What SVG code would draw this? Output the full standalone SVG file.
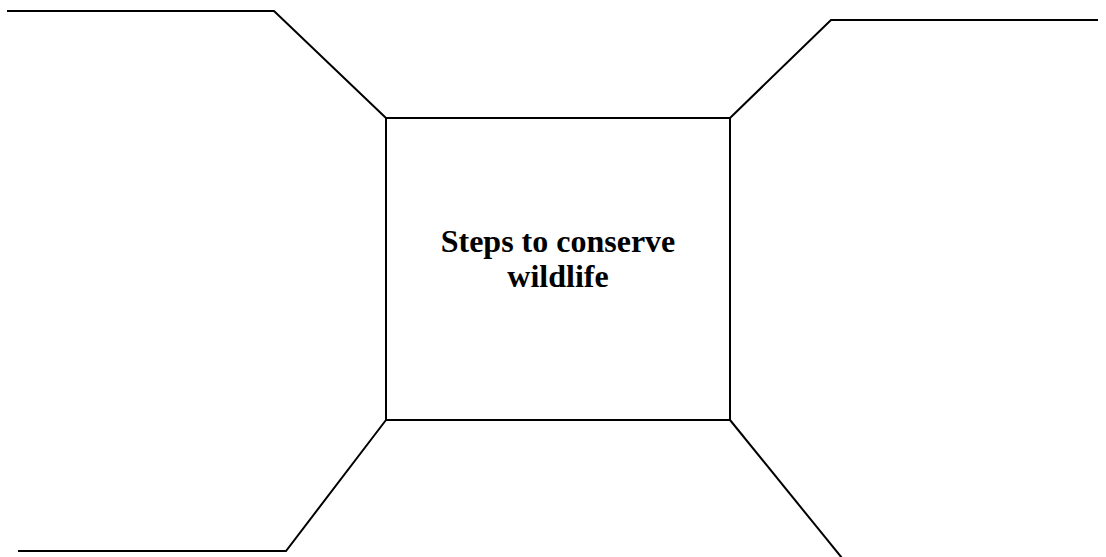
<svg xmlns="http://www.w3.org/2000/svg" width="1106" height="557" viewBox="0 0 1106 557">
<style>
.ln{fill:none;stroke:#000;stroke-width:2;stroke-linejoin:miter}
.t{font-family:"Liberation Serif","Times New Roman",serif;font-weight:bold;font-size:32px;fill:#000;text-anchor:middle}
</style>
<rect width="1106" height="557" fill="#fff"/>
<g id="connectors">
<polyline class="ln" points="7,11 274,11 386,118"/>
<polyline class="ln" points="730,118 831,20 1098,20"/>
<polyline class="ln" points="386,420 286,551 18,551"/>
<polyline class="ln" points="730,420 842,558"/>
</g>
<g id="center">
<rect class="ln" x="386" y="118" width="344" height="302"/>
<text class="t" x="558" y="252">Steps to conserve</text>
<text class="t" x="558" y="287">wildlife</text>
</g>
</svg>
